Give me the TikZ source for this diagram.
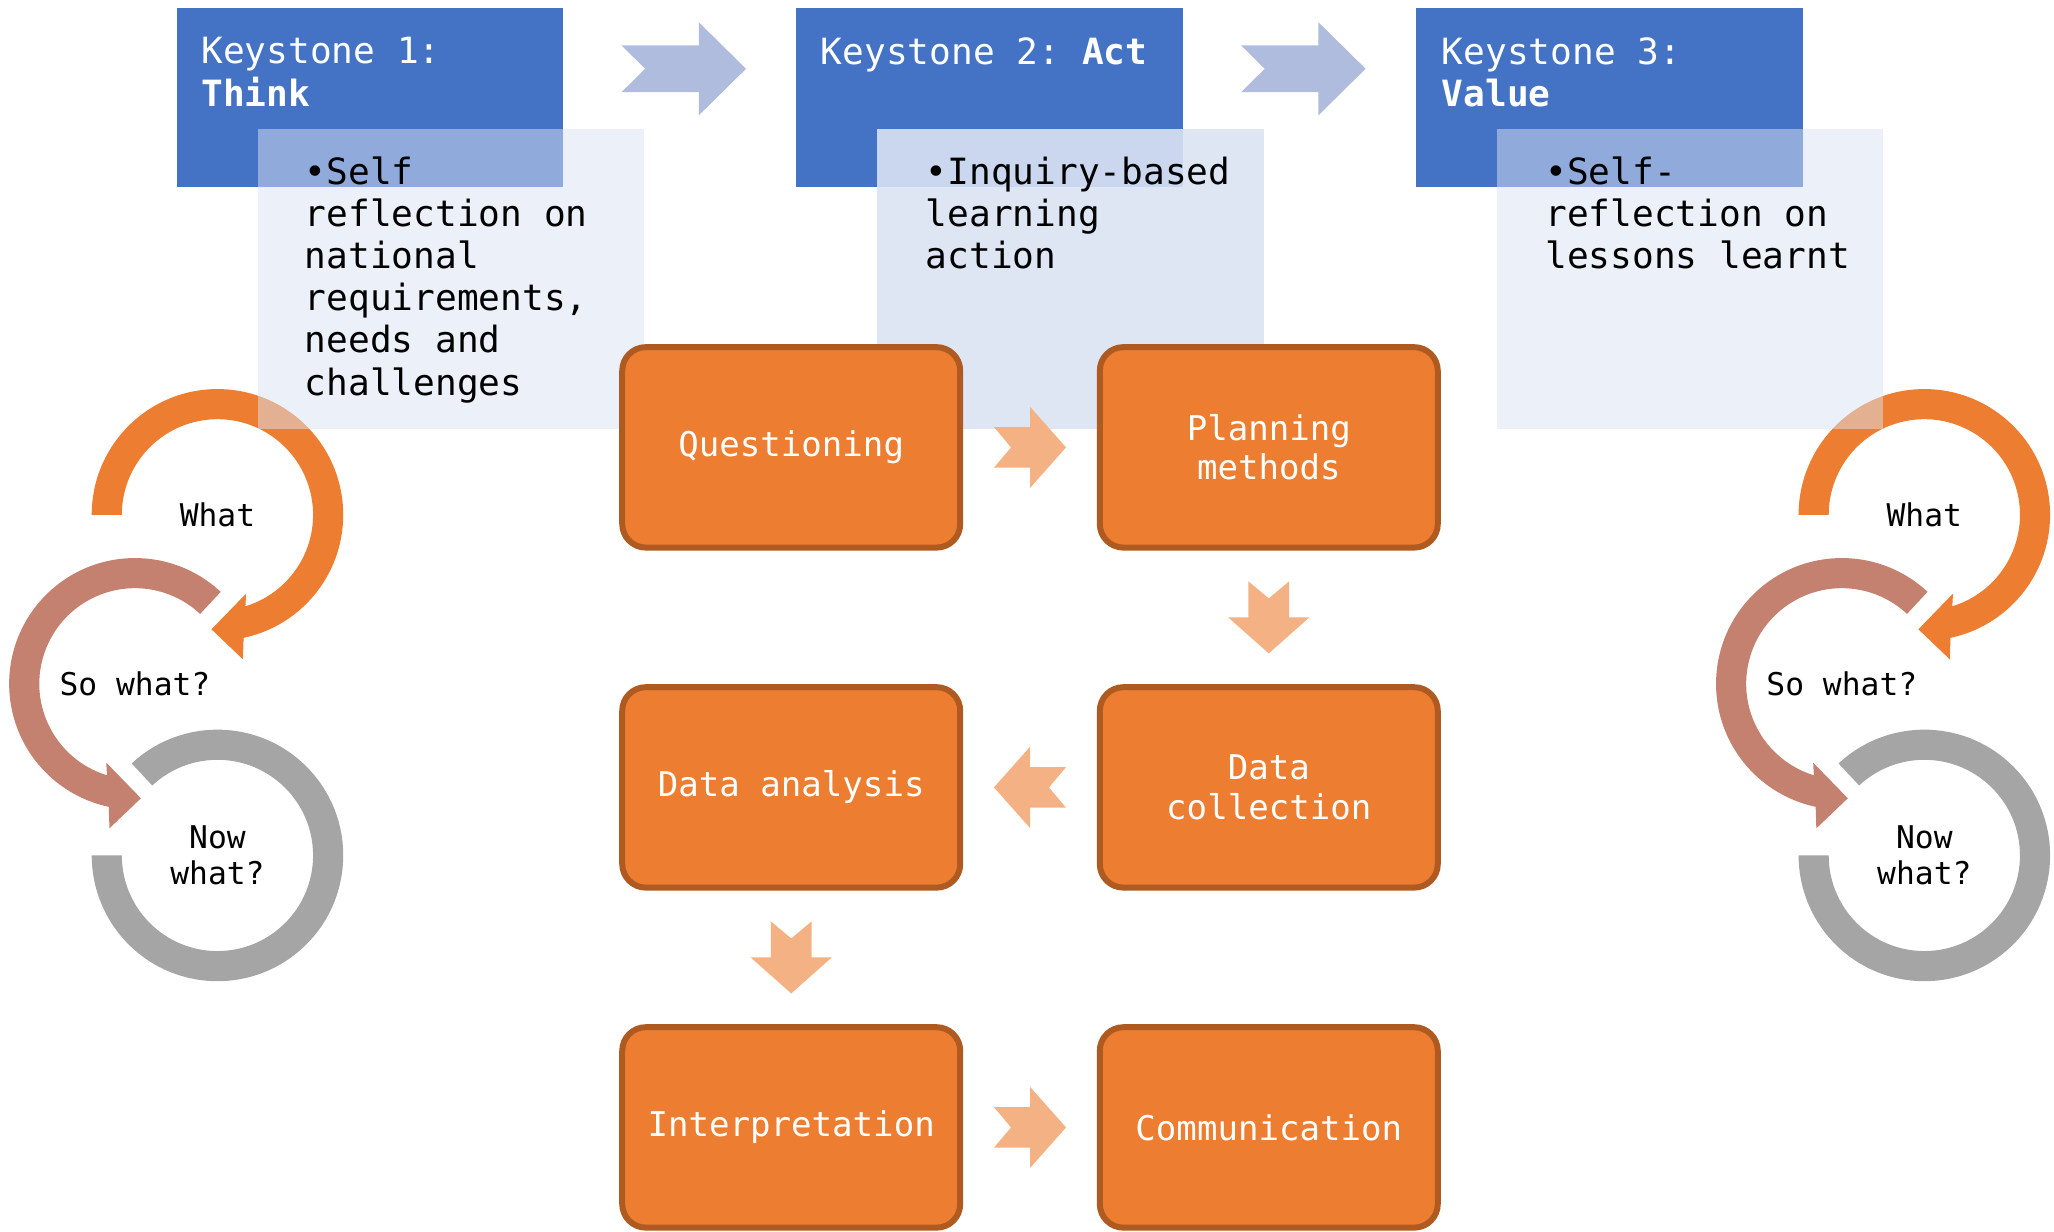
\documentclass[tikz,border=0pt]{standalone}
\usepackage{fontspec}
\setmonofont{DejaVu Sans Mono}
\usetikzlibrary{positioning,calc}
\definecolor{keyblue}{HTML}{4472C4}
\definecolor{panelblue}{HTML}{DAE3F3}
\definecolor{chevblue}{HTML}{AFBCDE}
\definecolor{steporange}{HTML}{ED7D31}
\definecolor{stepedge}{HTML}{AE5A21}
\definecolor{peach}{HTML}{F4B183}
\definecolor{ringrose}{HTML}{C48170}
\definecolor{ringgray}{HTML}{A5A5A5}
\tikzset{
  keybox/.style={fill=keyblue, minimum width=2.95cm, minimum height=1.37cm, inner sep=0pt, outer sep=0pt},
  keytitle/.style={text=white, align=left, inner sep=0pt, font=\ttfamily\fontsize{7.85pt}{9.15pt}\selectfont},
  panel/.style={fill=panelblue, fill opacity=0.5, minimum width=2.95cm, minimum height=2.29cm, inner sep=0pt},
  paneltext/.style={text=black, align=left, inner sep=0pt, font=\ttfamily\fontsize{7.85pt}{9.15pt}\selectfont},
  stepbox/.style={draw=stepedge, line width=1.3pt, rounded corners=1.8mm, fill=steporange, text=white, align=center,
    minimum width=2.58cm, minimum height=1.53cm, font=\ttfamily\fontsize{7.4pt}{8.6pt}\selectfont},
  ringtext/.style={text=black, align=center, inner sep=0pt, font=\ttfamily\fontsize{6.8pt}{7.7pt}\selectfont},
  % notched block arrows, pointing east
  pics/keyarrow/.style={code={
    \fill[chevblue] (-0.475,0.178) -- (0.115,0.178) -- (0.115,0.355) -- (0.475,0) -- (0.115,-0.355)
      -- (0.115,-0.178) -- (-0.475,-0.178) -- (-0.295,0) -- cycle;
  }},
  pics/steparrow/.style={code={
    \fill[peach] (-0.275,0.155) -- (0,0.155) -- (0,0.31) -- (0.275,0) -- (0,-0.31)
      -- (0,-0.155) -- (-0.275,-0.155) -- (-0.145,0) -- cycle;
  }},
  % what / so what / now what cycle
  pics/reflectcycle/.style={code={
    \fill[steporange] (180:0.96) arc[start angle=180, end angle=-78, radius=0.96]
      -- (-80:1.12) -- (-93:0.875) -- (-70:0.64) -- (-73:0.73)
      arc[start angle=-73, end angle=180, radius=0.73] -- cycle;
    \fill[ringrose, shift={(-0.63,-1.29)}] (47:0.96) arc[start angle=47, end angle=258, radius=0.96]
      -- (260:1.12) -- (273:0.875) -- (250:0.64) -- (253:0.73)
      arc[start angle=253, end angle=47, radius=0.73] -- cycle;
    \fill[ringgray, shift={(0,-2.60)}] (133:0.96) arc[start angle=133, end angle=-180, radius=0.96]
      -- (180:0.73) arc[start angle=-180, end angle=133, radius=0.73] -- cycle;
    \node[ringtext] (-what) at (0,0) {What};
    \node[ringtext] (-so) at (-0.63,-1.29) {So what?};
    \node[ringtext] (-now) at (0,-2.60) {Now\\what?};
  }}
}

\begin{document}
\begin{tikzpicture}
  \useasboundingbox (0,0) rectangle (15.68,-9.40);

  \pic (left) at (1.66,-3.93) {reflectcycle};
  \pic (right) at (14.69,-3.93) {reflectcycle};

  % keystones
  \node[keybox] (k1) at (2.825,-0.745) {};
  \node[keybox, right=1.78cm of k1] (k2) {};
  \node[keybox, right=1.78cm of k2] (k3) {};
  \node[panel, anchor=north west] (p1) at ([shift={(0.61,-0.92)}]k1.north west) {};
  \node[panel, anchor=north west, fill opacity=0.9] (p2) at ([shift={(0.61,-0.92)}]k2.north west) {};
  \node[panel, anchor=north west] (p3) at ([shift={(0.61,-0.92)}]k3.north west) {};
  \pic at ($(k1.east)!0.5!(k2.west)+(0.03,0.22)$) {keyarrow};
  \pic at ($(k2.east)!0.5!(k3.west)+(0.03,0.22)$) {keyarrow};

  \node[keytitle, anchor=north west] (t1) at ([shift={(0.18,-0.22)}]k1.north west) {Keystone 1:\\\textbf{Think}};
  \node[keytitle, anchor=north west] (t2) at ([shift={(0.18,-0.22)}]k2.north west) {Keystone 2: \textbf{Act}};
  \node[keytitle, anchor=north west] (t3) at ([shift={(0.19,-0.22)}]k3.north west) {Keystone 3:\\\textbf{Value}};

  % inquiry steps
  \node[stepbox] (quest) at (6.04,-3.415) {Questioning};
  \node[stepbox, right=1.02cm of quest] (plan) {Planning\\methods};
  \node[stepbox, below=1.02cm of plan] (coll) {Data\\collection};
  \node[stepbox, below=1.02cm of quest] (anal) {Data analysis};
  \node[stepbox, below=1.02cm of anal] (interp) {Interpretation};
  \node[stepbox, right=1.02cm of interp] (comm) {Communication};

  \pic at ($(quest.east)!0.5!(plan.west)$) {steparrow};
  \pic[rotate=-90] at ($(plan.south)!0.5!(coll.north)$) {steparrow};
  \pic[rotate=180] at ($(coll.west)!0.5!(anal.east)$) {steparrow};
  \pic[rotate=-90] at ($(anal.south)!0.5!(interp.north)$) {steparrow};
  \pic at ($(interp.east)!0.5!(comm.west)$) {steparrow};

  \node[paneltext, anchor=north west] (b1) at ([shift={(0.36,-0.21)}]p1.north west)
    {•Self\\reflection on\\national\\requirements,\\needs and\\challenges};
  \node[paneltext, anchor=north west] (b2) at ([shift={(0.37,-0.21)}]p2.north west)
    {•Inquiry-based\\learning\\action};
  \node[paneltext, anchor=north west] (b3) at ([shift={(0.37,-0.21)}]p3.north west)
    {•Self-\\reflection on\\lessons learnt};
\end{tikzpicture}
\end{document}
